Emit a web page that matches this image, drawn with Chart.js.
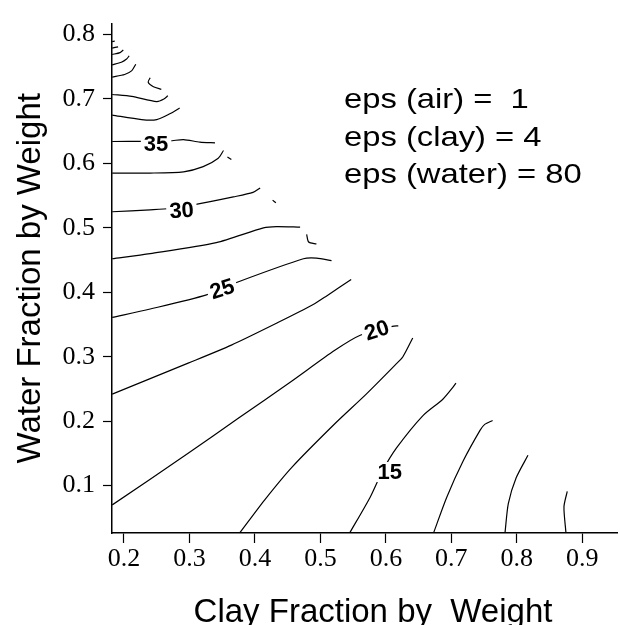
<!DOCTYPE html>
<html>
<head>
<meta charset="utf-8">
<script src="https://cdn.jsdelivr.net/npm/chart.js@4.4.1/dist/chart.umd.min.js"></script>
<style>
  html, body { margin: 0; padding: 0; background: #fff; }
  #wrap { width: 620px; height: 625px; }
</style>
</head>
<body>
<div id="wrap"><canvas id="chart"></canvas></div>
<script>
// iso-permittivity lines, points are [clay fraction, water fraction]
const eps7_5 = [[0.875, 0.027], [0.872, 0.067], [0.877, 0.091]];
const eps10 = [[0.782, 0.027], [0.787, 0.072], [0.799, 0.112], [0.817, 0.147]];
const eps12_5 = [[0.673, 0.027], [0.693, 0.082], [0.718, 0.138], [0.744, 0.186], [0.751, 0.195], [0.763, 0.201]];
const eps15 = [[0.545, 0.027], [0.576, 0.082], [0.595, 0.123], [0.616, 0.158], [0.657, 0.209], [0.687, 0.234], [0.702, 0.252], [0.707, 0.259]];
const eps17_5 = [[0.377, 0.027], [0.415, 0.078], [0.456, 0.128], [0.522, 0.196], [0.570, 0.242], [0.614, 0.287], [0.626, 0.300], [0.641, 0.329]];
const eps20 = [[0.182, 0.070], [0.298, 0.150], [0.374, 0.204], [0.456, 0.262], [0.522, 0.310], [0.560, 0.333], [0.610, 0.347], [0.619, 0.348]];
const eps22_5 = [[0.182, 0.242], [0.298, 0.290], [0.364, 0.318], [0.435, 0.353], [0.489, 0.381], [0.509, 0.394], [0.547, 0.420]];
const eps25 = [[0.182, 0.361], [0.240, 0.374], [0.326, 0.396], [0.374, 0.416], [0.474, 0.452], [0.494, 0.453], [0.517, 0.449]];
const eps27_5 = [[0.182, 0.452], [0.240, 0.460], [0.341, 0.477], [0.413, 0.500], [0.433, 0.502], [0.469, 0.501]];
const eps30 = [[0.182, 0.525], [0.240, 0.528], [0.270, 0.530], [0.308, 0.536], [0.367, 0.548], [0.397, 0.555], [0.408, 0.562]];
const eps32_5 = [[0.182, 0.585], [0.240, 0.585], [0.291, 0.587], [0.321, 0.595], [0.344, 0.608], [0.352, 0.620]];
const eps35 = [[0.182, 0.634], [0.270, 0.635], [0.291, 0.637], [0.316, 0.633], [0.339, 0.632]];
const eps37_5 = [[0.182, 0.675], [0.227, 0.668], [0.250, 0.668], [0.270, 0.677], [0.285, 0.686]];
const eps40 = [[0.182, 0.707], [0.212, 0.704], [0.250, 0.696], [0.261, 0.700], [0.267, 0.705]];
const eps42_5 = [[0.182, 0.734], [0.201, 0.738], [0.212, 0.744], [0.218, 0.754]];
const eps45 = [[0.182, 0.753], [0.196, 0.757], [0.204, 0.762], [0.208, 0.767]];
const eps47_5 = [[0.182, 0.769], [0.194, 0.772], [0.199, 0.776]];
const eps50 = [[0.182, 0.779], [0.191, 0.781]];
const eps52_5 = [[0.182, 0.789], [0.186, 0.790]];

// short broken pieces of the contours near the edge of the data
const stub1 = [[0.240, 0.733], [0.237, 0.726], [0.245, 0.719], [0.257, 0.715]];
const stub2 = [[0.358, 0.610], [0.364, 0.606]];
const stub3 = [[0.427, 0.543], [0.432, 0.539]];
const stub4 = [[0.479, 0.490], [0.482, 0.478], [0.494, 0.475]];

const contours = [eps7_5, eps10, eps12_5, eps15, eps17_5, eps20, eps22_5, eps25, eps27_5,
  eps30, eps32_5, eps35, eps37_5, eps40, eps42_5, eps45, eps47_5, eps50, eps52_5,
  stub1, stub2, stub3, stub4];

// inline contour labels
const labelText = ["35", "30", "25", "20", "15"];
const labelX = [0.249, 0.288, 0.350, 0.586, 0.606];
const labelY = [0.630, 0.527, 0.405, 0.341, 0.121];
const labelTilt = [0, -4, -18, -18, 0];

const noteLines = ["eps (air) =  1", "eps (clay) = 4", "eps (water) = 80"];

const xTicks = [0.2, 0.3, 0.4, 0.5, 0.6, 0.7, 0.8, 0.9];
const yTicks = [0.1, 0.2, 0.3, 0.4, 0.5, 0.6, 0.7, 0.8];

const sans = '"Liberation Sans", Arial, sans-serif';
const serif = '"Liberation Serif", "Times New Roman", serif';

const textPlugin = {
  id: "textPlugin",
  afterDatasetsDraw(chart) {
    const { ctx, scales: { x, y }, chartArea } = chart;
    ctx.save();

    // contour labels with a white gap in the line
    ctx.font = "bold 22px " + sans;
    ctx.textAlign = "center";
    ctx.textBaseline = "middle";
    labelText.forEach((t, i) => {
      ctx.save();
      ctx.translate(x.getPixelForValue(labelX[i]), y.getPixelForValue(labelY[i]));
      ctx.rotate(labelTilt[i] * Math.PI / 180);
      const w = ctx.measureText(t).width;
      ctx.fillStyle = "#fff";
      ctx.fillRect(-w / 2 - 3, -10, w + 6, 20);
      ctx.fillStyle = "#000";
      ctx.fillText(t, 0, 1);
      ctx.restore();
    });

    // parameter note
    ctx.font = "28px " + sans;
    ctx.textAlign = "left";
    ctx.textBaseline = "alphabetic";
    ctx.fillStyle = "#000";
    noteLines.forEach((t, i) => {
      ctx.save();
      ctx.translate(344, 108 + i * 37.5);
      ctx.scale(1.17, 1);
      ctx.fillText(t, 0, 0);
      ctx.restore();
    });

    // axis titles
    ctx.font = "33px " + sans;
    ctx.textAlign = "center";
    ctx.fillText("Clay Fraction by  Weight", 373, 622);
    ctx.save();
    ctx.translate(40, (chartArea.top + chartArea.bottom) / 2);
    ctx.rotate(-Math.PI / 2);
    ctx.fillText("Water Fraction by Weight", 0, 0);
    ctx.restore();

    ctx.restore();
  }
};

new Chart(document.getElementById("chart"), {
  type: "scatter",
  data: {
    datasets: contours.map((pts) => ({
      data: pts.map(([cx, wy]) => ({ x: cx, y: wy })),
      showLine: true,
      borderColor: "#000",
      borderWidth: 1.2,
      pointRadius: 0,
      tension: 0.25,
      fill: false
    }))
  },
  options: {
    responsive: true,
    maintainAspectRatio: false,
    animation: false,
    layout: { padding: { top: 13, right: 3, left: 0, bottom: 0 } },
    plugins: {
      legend: { display: false },
      tooltip: { enabled: false }
    },
    scales: {
      x: {
        type: "linear",
        min: 0.1817,
        max: 0.953,
        afterFit: (s) => { s.height = 92; },
        afterBuildTicks: (s) => { s.ticks = xTicks.map((v) => ({ value: v })); },
        grid: { drawOnChartArea: false, drawTicks: true, tickLength: 10, tickColor: "#000", tickWidth: 1.2 },
        border: { display: true, color: "#000", width: 1.5 },
        ticks: {
          color: "#000",
          padding: 1,
          maxRotation: 0,
          font: { family: serif, size: 26 },
          callback: (v) => v.toFixed(1)
        }
      },
      y: {
        type: "linear",
        min: 0.0264,
        max: 0.817,
        afterFit: (s) => { s.width = 112; },
        afterBuildTicks: (s) => { s.ticks = yTicks.map((v) => ({ value: v })); },
        grid: { drawOnChartArea: false, drawTicks: true, tickLength: 9, tickColor: "#000", tickWidth: 1.2 },
        border: { display: true, color: "#000", width: 1.5 },
        ticks: {
          color: "#000",
          padding: 8,
          font: { family: serif, size: 26 },
          callback: (v) => v.toFixed(1)
        }
      }
    }
  },
  plugins: [textPlugin]
});
</script>
</body>
</html>
